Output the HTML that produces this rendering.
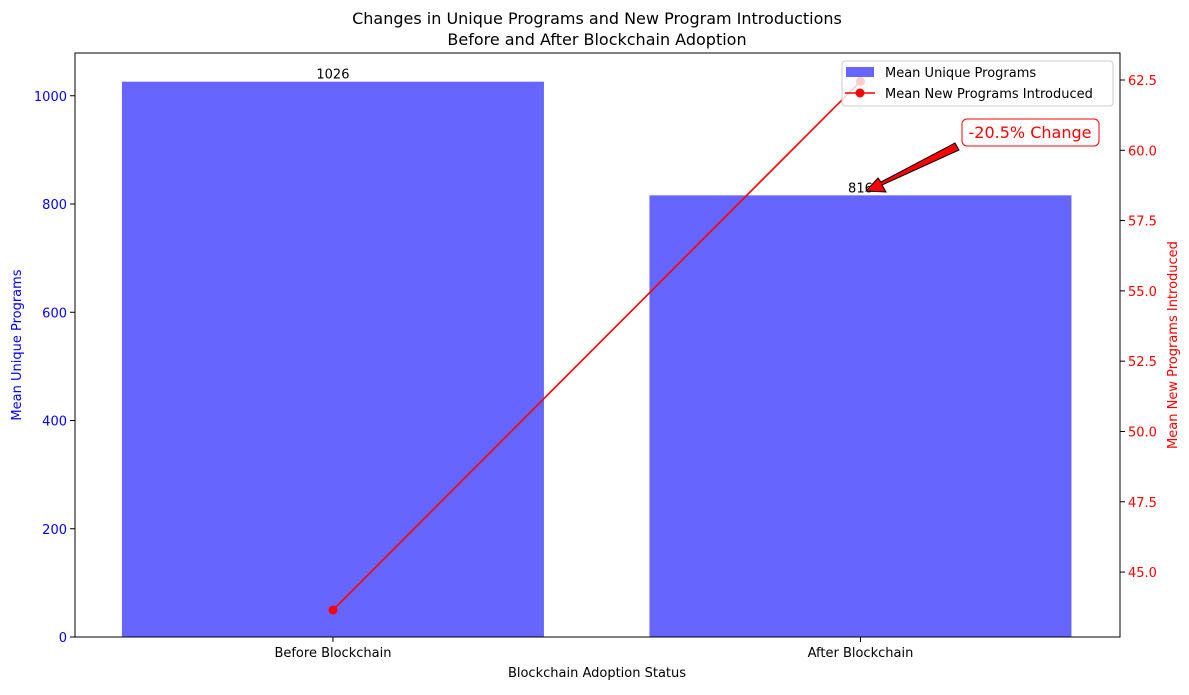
<!DOCTYPE html>
<html><head><meta charset="utf-8"><style>
body{margin:0;background:#fff;}
svg{font-family:"DejaVu Sans","Liberation Sans",sans-serif;}
</style></head><body>
<svg id="chart" width="1189" height="690" xmlns="http://www.w3.org/2000/svg"></svg>
<script>
const categories = ["Before Blockchain", "After Blockchain"];
const uniquePrograms = [1026, 816];
const newPrograms = [43.65, 62.45];
const leftTicks = [0, 200, 400, 600, 800, 1000];
const rightTicks = [45.0, 47.5, 50.0, 52.5, 55.0, 57.5, 60.0, 62.5];

const NS = "http://www.w3.org/2000/svg";
const svg = document.getElementById("chart");
const L = 75, R = 1120, T = 53, B = 637;
const xMin = -0.489, xMax = 1.492;
const yLMax = 1079, yRMin = 42.69, yRMax = 63.46;
const xs = v => L + (v - xMin) / (xMax - xMin) * (R - L);
const yl = v => B - v / yLMax * (B - T);
const yr = v => B - (v - yRMin) / (yRMax - yRMin) * (B - T);
function el(tag, attrs, text, name, inter) {
  const e = document.createElementNS(NS, tag);
  for (const k in attrs) e.setAttribute(k, attrs[k]);
  if (text !== undefined && text !== null) e.textContent = text;
  
  
  svg.appendChild(e);
  return e;
}
// title
el('text', {x: 597, y: 24, 'text-anchor': 'middle', 'font-size': 16}, 'Changes in Unique Programs and New Program Introductions', 'chart-title-line1');
el('text', {x: 597, y: 45, 'text-anchor': 'middle', 'font-size': 16}, 'Before and After Blockchain Adoption', 'chart-title-line2');
// bars
const bw = 0.8;
categories.forEach((c, i) => {
  const x0 = xs(i - bw / 2), x1 = xs(i + bw / 2);
  el('rect', {x: x0, y: yl(uniquePrograms[i]), width: x1 - x0, height: B - yl(uniquePrograms[i]), fill: '#6666ff'}, null, 'bar-' + i, true);
  el('text', {x: xs(i), y: yl(uniquePrograms[i]) - 3, 'text-anchor': 'middle', 'font-size': 13}, String(uniquePrograms[i]), 'bar-value-' + i);
  el('line', {x1: xs(i), x2: xs(i), y1: B, y2: B + 5, stroke: '#000'}, null, 'x-tick-' + i);
  el('text', {x: xs(i), y: B + 20, 'text-anchor': 'middle', 'font-size': 13}, c, 'x-tick-label-' + i);
});
// line
el('polyline', {points: newPrograms.map((v, i) => xs(i) + ',' + yr(v)).join(' '), fill: 'none', stroke: 'red', 'stroke-width': 1.6}, null, 'new-programs-line');
newPrograms.forEach((v, i) => el('circle', {cx: xs(i), cy: yr(v), r: 4.5, fill: 'red'}, null, 'new-programs-point-' + i, true));
// axes frame
el('rect', {x: L, y: T, width: R - L, height: B - T, fill: 'none', stroke: '#000', 'stroke-width': 1}, null, 'plot-frame');
// left ticks
leftTicks.forEach(v => {
  el('line', {x1: L - 5, x2: L, y1: yl(v), y2: yl(v), stroke: '#000'}, null, 'left-tick');
  el('text', {x: L - 8, y: yl(v) + 5, 'text-anchor': 'end', 'font-size': 13, fill: 'blue'}, String(v), 'left-tick-label');
});
rightTicks.forEach(v => {
  el('line', {x1: R, x2: R + 5, y1: yr(v), y2: yr(v), stroke: '#000'}, null, 'right-tick');
  el('text', {x: R + 8, y: yr(v) + 5, 'font-size': 13, fill: 'red'}, v.toFixed(1), 'right-tick-label');
});
el('text', {x: 597, y: 677, 'text-anchor': 'middle', 'font-size': 13}, 'Blockchain Adoption Status', 'x-axis-title');
el('text', {x: 21, y: 345, 'text-anchor': 'middle', 'font-size': 13, fill: 'blue', transform: 'rotate(-90 21 345)'}, 'Mean Unique Programs', 'left-axis-title');
el('text', {x: 1177, y: 345, 'text-anchor': 'middle', 'font-size': 13, fill: 'red', transform: 'rotate(-90 1177 345)'}, 'Mean New Programs Introduced', 'right-axis-title');
// annotation arrow
el('polygon', {points: '955,143 959,150 882,185 886,192 866,191 878,178 881,182 ', fill: 'red', stroke: '#000', 'stroke-width': 1}, null, 'annotation-arrow');
el('rect', {x: 962, y: 119, width: 137, height: 27, rx: 5, fill: '#fff', stroke: 'red', 'stroke-width': 1}, null, 'annotation-box');
el('text', {x: 1030, y: 138, 'text-anchor': 'middle', 'font-size': 16, fill: 'red'}, '-20.5% Change', 'annotation-text');
// legend
el('rect', {x: 842, y: 61, width: 271, height: 45, rx: 3, fill: 'rgba(255,255,255,0.8)', stroke: '#ccc'}, null, 'legend-box');
el('rect', {x: 846, y: 67, width: 28, height: 10, fill: '#6666ff'}, null, 'legend-bar-swatch');
el('text', {x: 885, y: 77, 'font-size': 13}, 'Mean Unique Programs', 'legend-entry-bars', true);
el('line', {x1: 845, x2: 875, y1: 93, y2: 93, stroke: 'red', 'stroke-width': 1.6}, null, 'legend-line-swatch');
el('circle', {cx: 860, cy: 93, r: 4.5, fill: 'red'}, null, 'legend-marker');
el('text', {x: 885, y: 98, 'font-size': 13}, 'Mean New Programs Introduced', 'legend-entry-line', true);
</script>
</body></html>
